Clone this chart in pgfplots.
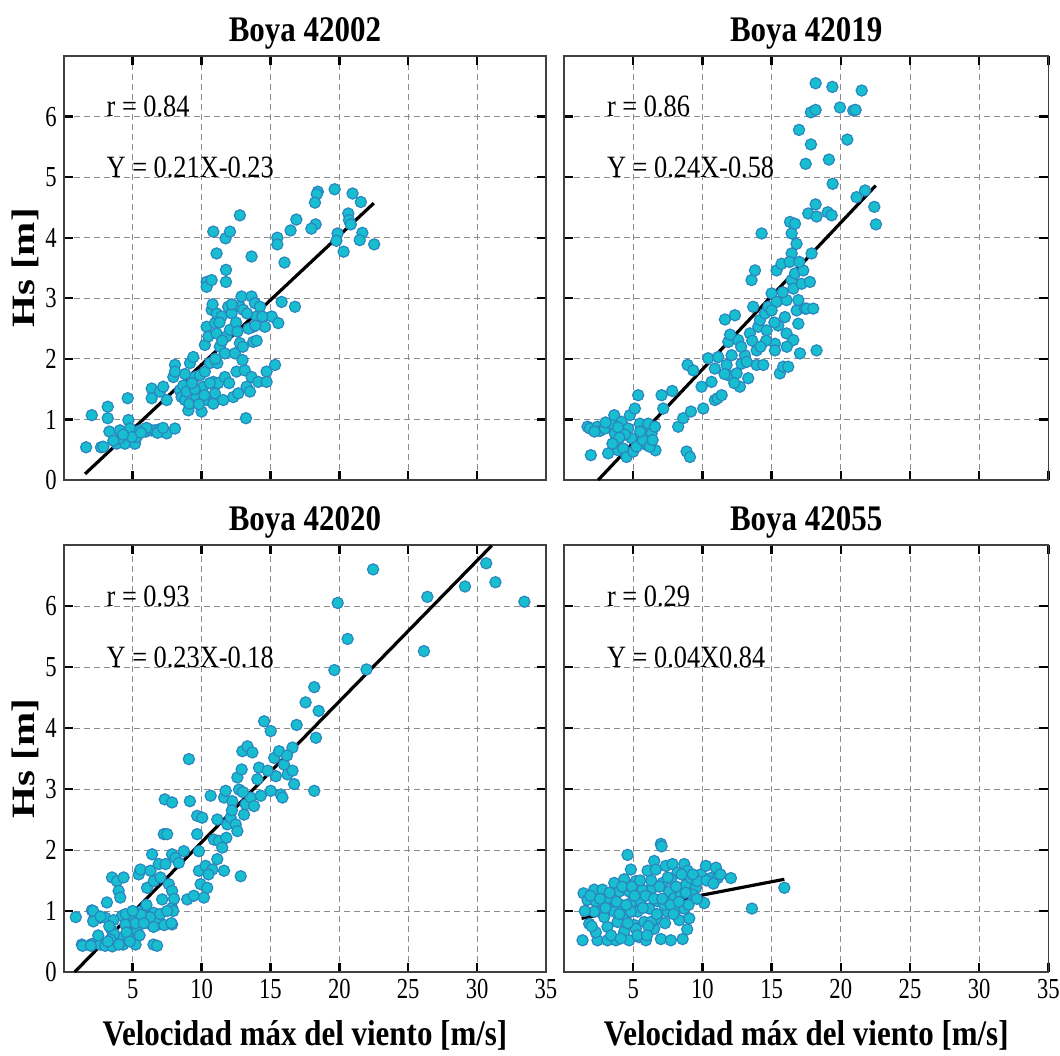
\documentclass[border=0pt]{standalone}
\usepackage{fontspec}
\setmainfont{Liberation Serif}
\newfontfamily\titlefont{Liberation Serif}[FakeStretch=0.86]
\newfontfamily\tickfont{Liberation Serif}[FakeStretch=0.78]
\newfontfamily\annfont{Liberation Serif}[FakeStretch=0.85]
\newfontfamily\ylabfont{Liberation Serif}[FakeStretch=1.26]
\usepackage{pgfplots}
\pgfplotsset{compat=1.18}
\definecolor{mfill}{HTML}{17BECF}
\definecolor{medge}{HTML}{2B86C0}
\pgfplotsset{
 buoy/.style={
  scale only axis,
  xmin=0,xmax=35,ymin=0,ymax=7,
  xtick={5,10,...,35}, ytick={0,...,6},
  tick align=inside, xtick pos=both, ytick pos=both,
  major tick length=4.5pt,
  every tick/.style={black, line width=1.2pt},
  axis line style={black!75, line width=0.8pt},
  grid=major,
  major grid style={gray!90, line width=0.5pt, dash pattern=on 3pt off 2pt},
  tick label style={font=\fontsize{14.5}{16}\tickfont},
  /pgf/number format/assume math mode=true,
  title style={font=\fontsize{18}{20}\titlefont\bfseries, at={(0.5,1)}, anchor=base, yshift=1.5pt},
  xlabel style={font=\fontsize{18}{20}\titlefont\bfseries, at={(axis description cs:0.5,0)}, anchor=base, yshift=-36.5pt},
  ylabel style={font=\fontsize{16.3}{18}\ylabfont\bfseries, at={(axis description cs:-0.08,0.5)}, anchor=center},
 },
 pts/.style={only marks, mark=*, mark size=2.8pt, mark options={fill=mfill, draw=medge, line width=0.6pt}},
 fitl/.style={black, line width=1.6pt, no marks},
}
\newcommand{\ann}[2]{%
 \node[anchor=base west, font=\fontsize{15.5}{17}\annfont] at (axis cs:2.6,6) {#1};
 \node[anchor=base west, font=\fontsize{15.5}{17}\annfont] at (axis cs:2.6,5) {#2};}
\begin{document}
\begin{tikzpicture}
% ---------------- Boya 42002 ----------------
\begin{axis}[buoy, at={(31.9pt,-28pt)}, anchor=north west, width=241.1pt, height=212pt,
  title={Boya 42002}, ylabel={Hs [m]}, xticklabels={}]
\addplot[pts] coordinates {
(1.62,0.54)(2.03,1.07)(2.70,0.54)(2.87,0.55)(3.19,1.21)(3.19,1.02)(3.31,0.80)(3.84,0.60)(4.08,0.82)(4.44,0.60)
(4.64,1.35)(4.69,0.99)(4.81,0.85)(5.17,0.60)(5.29,0.71)(5.53,0.82)(5.97,0.80)(6.38,0.82)(6.62,0.82)(6.98,0.84)
(7.35,0.80)(7.47,0.77)(8.07,0.85)(4.08,0.69)(4.93,0.71)(6.0,0.86)(3.6,0.65)(4.3,0.75)(5.6,0.78)(6.8,0.78)(7.2,0.86)
(6.38,1.51)(6.38,1.35)(6.98,1.46)(7.22,1.54)(7.47,1.32)(7.95,1.70)(8.07,1.90)(8.07,1.79)(8.43,1.48)(8.55,1.37)
(8.68,1.56)(8.80,1.32)(8.92,1.46)(9.04,1.15)(9.11,1.26)(9.16,1.93)(9.40,2.03)(9.52,1.70)(9.64,1.37)(9.88,1.73)
(10.0,1.13)(10.12,1.54)(10.24,1.79)(10.37,1.32)(10.24,2.23)(10.37,2.53)(10.49,2.37)(10.61,1.93)(10.73,2.81)(10.85,1.62)
(10.85,1.26)(10.97,1.43)(10.97,2.59)(11.09,2.75)(11.09,2.42)(11.14,1.93)(11.21,1.60)(11.33,2.20)(11.45,2.70)(11.57,1.32)
(11.69,1.70)(11.69,2.09)(11.81,2.37)(11.93,2.86)(12.06,2.48)(12.18,2.75)(12.30,1.37)(12.42,2.09)(12.54,1.79)(12.66,1.43)
(12.78,2.26)(12.78,2.86)(12.90,3.03)(13.02,2.81)(12.97,1.98)(13.14,1.81)(13.22,1.02)(13.27,1.54)(13.51,1.46)(13.63,3.03)
(13.63,1.70)(13.75,2.53)(13.75,2.28)(13.87,2.92)(13.99,2.70)(14.11,1.62)(14.24,2.86)(14.60,2.53)(14.72,1.79)(14.72,1.62)
(15.09,2.70)(15.33,1.90)(15.57,2.59)(15.81,2.94)(16.78,2.86)
(9.5,1.5)(10.6,1.6)(11.5,2.3)(12.0,1.6)(12.5,2.6)(13.0,2.2)(13.4,2.5)(14.0,2.3)(11.0,2.0)(10.2,1.4)
(9.8,1.25)(12.2,2.9)(13.3,2.75)(14.4,2.7)(11.3,2.6)(8.8,1.75)(9.3,1.6)(10.8,2.9)(12.6,2.45)(13.9,2.55)
(10.37,3.27)(10.37,3.19)(10.73,3.30)(11.09,3.74)(10.85,4.10)(11.74,3.99)(11.77,3.47)(11.77,3.27)(12.06,4.10)(12.78,4.37)(13.63,3.69)
(19.66,4.80)(20.96,4.73)(21.56,4.59)(21.67,4.08)(21.48,3.96)(22.53,3.89)(19.87,4.07)(19.79,3.95)(20.31,3.77)(20.65,4.40)
(20.70,4.29)(20.83,4.22)(18.44,4.76)(18.36,4.72)(18.23,4.58)(18.28,4.22)(17.97,4.15)(16.88,4.30)(16.46,4.12)(15.50,4.00)
(15.50,3.89)(16.02,3.59)
};
\addplot[fitl] coordinates {(1.54,0.10)(22.5,4.57)};
\ann{r = 0.84}{Y = 0.21X-0.23}
\end{axis}
% ---------------- Boya 42019 ----------------
\begin{axis}[buoy, at={(282pt,-28pt)}, anchor=north west, width=242.2pt, height=212pt,
  title={Boya 42019}, xticklabels={}, yticklabels={}]
\addplot[pts] coordinates {
(1.70,0.88)(1.87,0.85)(1.94,0.41)(2.42,0.88)(2.59,0.81)(2.95,0.85)(3.19,0.44)(3.43,0.93)(3.63,1.07)(3.67,0.77)
(3.92,0.49)(4.16,0.96)(4.28,0.52)(4.52,0.38)(4.64,0.85)(4.76,1.07)(4.88,0.69)(5.00,0.47)(5.12,1.18)(5.24,0.55)
(5.36,1.40)(5.48,0.93)(5.60,0.74)(5.84,0.82)(5.96,0.58)(6.08,0.93)(6.33,0.77)(6.57,0.88)(6.61,0.49)(7.05,1.40)
(7.17,1.18)(7.82,1.47)(8.25,0.88)(8.61,1.02)(8.93,1.90)(8.86,0.47)(9.10,0.38)(9.17,1.13)(9.34,1.81)
(3.0,0.95)(4.4,0.75)(5.7,0.66)(6.2,0.55)(3.9,0.87)(4.0,0.7)(5.5,0.8)(3.5,0.6)(2.2,0.8)(6.4,0.66)
(9.94,1.54)(10.06,1.18)(10.42,2.01)(10.66,1.62)(10.90,1.84)(10.90,1.32)(11.10,1.35)(11.14,2.03)(11.39,1.40)(11.63,2.65)
(11.75,1.90)(11.87,2.28)(11.87,1.73)(12.11,2.06)(12.35,2.72)(12.47,1.76)(12.59,2.31)(12.71,1.54)(12.83,1.92)(13.07,2.06)
(13.31,1.68)(13.43,2.42)(13.55,3.30)(13.80,3.46)(13.67,2.86)(13.92,2.14)(13.92,1.90)(14.04,2.53)(14.16,2.64)(14.28,4.07)
(14.40,1.90)(14.52,2.75)(14.64,2.47)(14.76,2.86)(15.00,3.08)(15.24,2.25)(15.24,2.14)(15.36,2.94)(15.36,3.46)(15.48,2.55)
(15.60,1.76)(15.72,3.57)(15.84,1.87)(15.96,2.69)(16.08,2.42)(16.20,1.87)(16.33,4.26)(16.45,3.30)(16.45,4.07)(16.45,3.74)
(16.57,2.31)(16.57,3.16)(16.69,4.23)(16.69,3.41)(16.81,2.80)(16.93,2.58)(17.05,2.09)(17.17,3.24)(17.29,3.46)(17.41,2.83)
(17.53,2.83)(17.77,3.27)(17.89,3.74)(18.01,2.83)(18.25,2.14)(16.08,2.97)(16.93,2.97)
(12.0,2.4)(12.8,2.2)(13.6,2.3)(14.6,2.3)(15.2,2.6)(15.8,3.1)(16.3,3.6)(16.8,3.9)(14.2,2.2)(13.2,1.95)
(11.6,1.75)(12.3,1.6)(15.0,2.8)(16.1,2.2)(17.0,3.6)
(17.65,4.40)(18.18,4.55)(18.25,4.35)(19.05,4.42)(19.34,4.37)(19.41,4.89)(21.14,4.67)(21.75,4.78)(22.42,4.51)(22.54,4.22)
(17.46,5.22)(17.84,5.54)(16.98,5.78)(19.14,5.29)(20.47,5.62)(17.84,6.07)(18.18,6.11)(18.18,6.55)(19.39,6.49)(19.94,6.15)
(20.90,6.10)(21.07,6.11)(21.51,6.43)(21.07,7.03)
};
\addplot[fitl] coordinates {(2.47,0)(22.52,4.86)};
\ann{r = 0.86}{Y = 0.24X-0.58}
\end{axis}
% ---------------- Boya 42020 ----------------
\begin{axis}[buoy, at={(31.9pt,-272.5pt)}, anchor=north west, width=241.1pt, height=213.5pt,
  title={Boya 42020}, ylabel={Hs [m]}, xlabel={Velocidad máx del viento [m/s]}]
\addplot[pts] coordinates {
(0.87,0.90)(1.31,0.45)(2.04,0.46)(2.04,1.01)(2.16,0.85)(2.65,0.89)(3.01,0.89)(3.13,1.14)(3.50,1.55)(3.86,1.49)
(3.98,1.33)(4.10,1.22)(4.34,1.55)(4.22,0.92)(4.47,0.78)(4.83,0.64)(5.07,0.89)(5.32,0.78)(5.44,1.60)(5.56,1.68)
(6.04,1.38)(6.17,0.92)(6.29,1.66)(6.41,1.93)(6.53,1.49)(6.77,0.89)(6.89,1.77)(6.89,0.78)(7.01,1.55)(7.14,1.19)
(7.26,2.26)(7.38,1.77)(7.50,2.26)(7.33,2.83)(7.86,2.78)(7.62,1.44)(7.86,1.33)(7.86,1.93)(7.86,1.05)(7.86,0.78)
(8.11,1.87)(8.35,1.79)(8.71,1.98)(9.08,3.49)(8.96,1.19)(9.15,2.80)(9.44,1.25)(9.68,2.56)(9.68,2.26)(9.81,1.98)
(9.81,1.66)(9.93,1.44)(10.05,2.53)(10.17,1.22)(10.29,1.74)(10.41,1.38)(10.66,2.89)(10.78,1.68)(10.90,2.17)(11.14,2.50)
(11.14,1.85)(11.26,2.15)(11.50,2.04)(11.63,1.66)(11.63,2.86)(11.75,2.97)(11.87,2.42)(12.11,2.53)(12.23,2.80)(12.48,2.42)
(12.60,2.31)(12.60,3.19)(12.72,2.99)(12.84,1.57)(12.91,3.32)(12.96,3.62)(13.08,2.58)(13.20,2.75)(13.33,3.70)(13.57,2.86)
(13.69,3.60)(13.81,2.72)(14.05,3.16)(14.17,3.35)(14.30,2.89)(14.54,4.11)(15.02,2.97)(15.02,3.95)(15.27,3.51)(15.39,3.21)
(15.63,3.62)(15.75,2.91)(15.87,2.86)(15.99,3.40)(16.24,3.24)(16.60,3.30)(16.72,3.08)(16.60,3.68)(16.90,4.05)(17.55,4.42)
(18.18,4.67)(18.18,2.97)(18.30,3.84)(18.50,4.28)(19.64,4.95)
(5.92,0.89)(6.53,0.78)(6.41,0.95)(5.68,1.0)(5.32,0.67)(3.50,0.67)(4.10,0.56)(2.65,0.45)
(1.36,0.43)(1.96,0.43)(3.0,0.43)(3.52,0.42)(4.30,0.45)(5.21,0.45)(6.51,0.45)(6.77,0.43)(3.65,0.62)(4.56,0.65)
(3.39,0.53)(2.14,1.0)(2.14,0.83)(2.66,0.91)(6.51,0.97)(6.12,0.80)(6.77,0.88)(6.51,0.74)(7.29,0.77)(7.81,0.80)
(7.94,1.0)(6.25,0.9)(5.21,0.8)(5.60,0.94)
(2.5,0.6)(3.2,0.5)(4.0,0.45)(4.8,0.5)(5.5,0.6)(5.8,0.8)(4.5,0.95)(3.6,0.85)(7.0,0.95)(7.5,1.0)
(6.0,1.1)(5.0,1.0)(3.3,0.75)(8.0,1.2)(10.5,1.6)(11.8,2.2)(12.2,2.65)(13.0,2.95)(14.8,3.3)(16.2,3.55)
(19.88,6.05)(20.60,5.46)(21.97,4.96)(22.45,6.60)(26.14,5.26)(26.39,6.15)(29.12,6.32)(30.66,6.70)(31.33,6.39)(33.43,6.07)
};
\addplot[fitl] coordinates {(0.79,0)(31.06,6.99)};
\ann{r = 0.93}{Y = 0.23X-0.18}
\end{axis}
% ---------------- Boya 42055 ----------------
\begin{axis}[buoy, at={(282pt,-272.5pt)}, anchor=north west, width=242.2pt, height=213.5pt,
  title={Boya 42055}, yticklabels={}, xlabel={Velocidad máx del viento [m/s]}]
\addplot[pts] coordinates {
(1.41,1.29)(1.34,0.52)(1.70,1.18)(1.82,0.79)(2.18,1.35)(2.30,1.16)(2.42,0.52)(2.54,0.99)(2.78,1.35)(3.02,1.10)
(3.14,0.74)(3.14,0.52)(3.51,1.02)(3.63,1.46)(3.75,0.52)(3.87,0.82)(3.99,1.32)(4.11,1.10)(4.35,1.52)(4.35,0.66)
(4.47,0.93)(4.59,1.92)(4.71,1.32)(4.71,0.52)(4.83,1.68)(4.95,1.16)(5.07,0.77)(5.19,1.49)(5.31,0.99)(5.43,0.57)
(5.67,1.35)(5.80,0.82)(5.92,0.52)(6.04,1.66)(6.16,1.04)(6.40,1.38)(6.52,1.82)(6.52,0.71)(6.64,1.68)(6.76,1.16)
(7.00,2.10)(7.05,2.06)(7.00,0.54)(7.12,1.46)(7.36,1.74)(7.48,0.99)(7.60,1.32)(7.72,0.52)(7.84,1.77)(7.96,1.21)
(8.20,1.63)(8.33,0.85)(8.57,0.54)(8.69,1.77)(8.81,1.43)(8.93,1.66)(9.05,0.88)(9.17,1.54)(9.53,1.38)(9.89,1.60)
(10.13,1.13)(10.25,1.74)(10.61,1.54)(10.98,1.71)(11.10,1.54)(12.06,1.54)(13.58,1.04)(15.92,1.38)
(3.14,1.21)(4.83,0.99)(5.55,1.16)(7.24,1.10)(8.45,1.27)(8.20,1.04)(6.76,0.88)(3.63,0.99)(6.28,0.82)(8.69,1.04)
(7.72,1.52)(5.19,0.71)(2.18,0.99)(9.65,1.49)(9.29,1.27)
(1.5,1.0)(1.9,1.25)(2.3,0.65)(2.6,1.2)(2.9,0.9)(3.3,1.3)(3.4,0.6)(3.8,1.15)(4.0,0.95)(4.2,1.4)
(4.5,1.1)(4.6,0.8)(4.9,1.4)(5.1,1.25)(5.3,0.6)(5.5,1.5)(5.7,1.05)(5.9,1.25)(6.1,0.75)(6.3,1.5)
(6.5,1.2)(6.7,0.95)(6.9,1.4)(7.1,1.2)(7.3,0.8)(7.5,1.55)(7.7,1.1)(7.9,0.95)(8.1,1.4)(8.3,1.15)
(8.5,1.6)(8.8,1.3)(9.0,1.1)(9.3,1.6)(9.6,1.2)(10.3,1.5)(10.8,1.45)(11.3,1.6)(4.1,0.55)(6.0,0.6)
(8.9,0.7)(3.0,1.05)(2.0,0.75)
};
\addplot[fitl] coordinates {(1.27,0.88)(15.92,1.52)};
\ann{r = 0.29}{Y = 0.04X0.84}
\end{axis}
\pgfresetboundingbox
\path (0,0) rectangle (530pt,-527.5pt);
\end{tikzpicture}
\end{document}
